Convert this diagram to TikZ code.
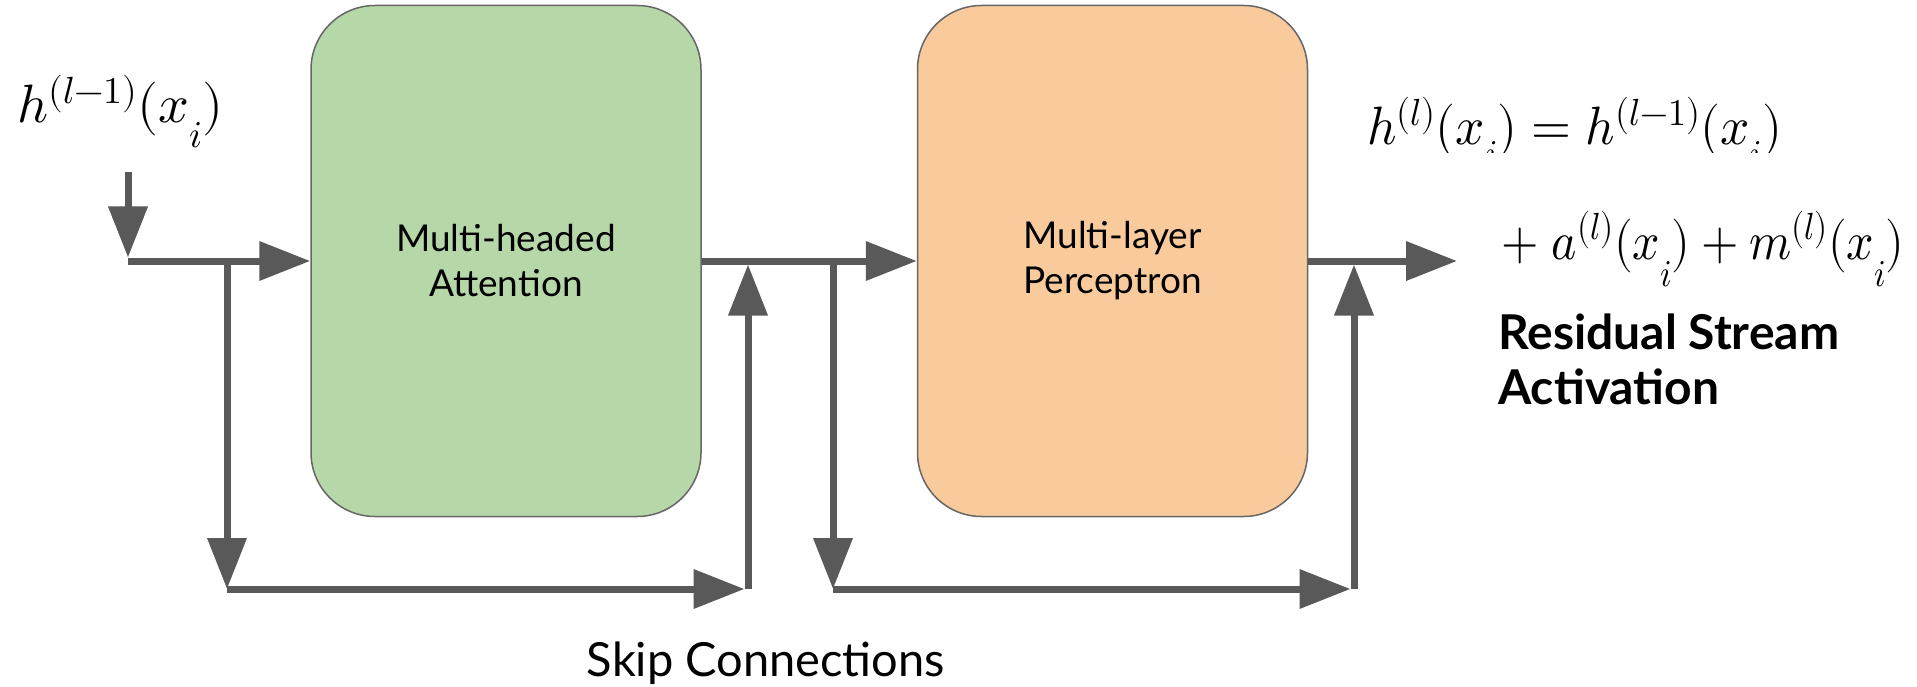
\documentclass[tikz,border=0pt]{standalone}
\usepackage{graphicx}
\usepackage{fontspec}
\usepackage{unicode-math}
\setmainfont{Lato}
\setmathfont{Latin Modern Math}
\usetikzlibrary{arrows.meta}

\definecolor{arrowgray}{HTML}{595959}
\definecolor{attnfill}{HTML}{B6D7A8}
\definecolor{mlpfill}{HTML}{F9CB9C}
\definecolor{boxline}{HTML}{666666}

% subscript i set well below the baseline
\newcommand\lowidx[1]{\raisebox{-#1}{$\scriptstyle i$}}

\tikzset{
  block/.style={draw=boxline, line width=1.5pt, rounded corners=64pt,
    minimum width=390pt, minimum height=511pt, inner sep=0pt,
    align=center, font=\fontsize{37}{45}\selectfont},
  flow/.style={draw=arrowgray, line width=7pt,
    -{Triangle[width=38pt,length=51pt]}},
  eqn/.style={anchor=base west, inner sep=0pt, font=\fontsize{54}{60}\selectfont},
}

\begin{document}
\begin{tikzpicture}[x=1pt, y=-1pt]
\useasboundingbox (0,0) rectangle (1917,687);
\fill[white] (0,0) rectangle (1917,687);

% the two sub-layers
\node[block, fill=attnfill] (attn) at (506,261) {Multi-headed\\Attention};
\node[block, fill=mlpfill]  (mlp)  at (1112.5,261) {Multi-layer\\Perceptron};

% junction points of the residual stream
\coordinate (in0) at (128,172);
\coordinate (j0)  at (128,261);
\coordinate (b1)  at (227,261);
\coordinate (b1d) at (227,589);
\coordinate (m1d) at (748,589);
\coordinate (m1)  at (748,261);
\coordinate (b2)  at (833,261);
\coordinate (b2d) at (833,589);
\coordinate (m2d) at (1354,589);
\coordinate (m2)  at (1354,261);
\coordinate (out) at (1457,261);

% main stream
\draw[flow, shorten >=3.5pt] (in0) -- (j0);
\draw[flow] (j0) -- (attn.west);
\draw[flow] (attn.east) -- (mlp.west);
\draw[flow] (mlp.east) -- (out);

% skip connection around attention
\draw[flow] (b1) -- (b1d);
\draw[flow, shorten >=3.5pt] (b1d) -- (m1d);
\draw[flow, shorten >=3.5pt] (m1d) -- (m1);

% skip connection around the MLP
\draw[flow] (b2) -- (b2d);
\draw[flow, shorten >=3.5pt] (b2d) -- (m2d);
\draw[flow, shorten >=3.5pt] (m2d) -- (m2);

% labels
\node[eqn] (hin) at (17,123) {$h^{(l-1)}(x\lowidx{25pt})$};

\begin{scope}
  \clip (1340,60) rectangle (1917,153);
  \node[eqn] (eqa) at (1367,145)
    {\scalebox{0.95}[1]{$h^{(l)}(x\lowidx{22pt}) = h^{(l-1)}(x\lowidx{22pt})$}};
\end{scope}
\node[eqn] (eqb) at (1501,259)
  {\scalebox{0.89}[1]{$+\;a^{(l)}(x\lowidx{27pt}) + m^{(l)}(x\lowidx{27pt})$}};

\node[anchor=north west, inner sep=0pt, align=left,
      font=\bfseries\fontsize{48}{55}\selectfont] (rsa) at (1498,314)
      {Residual Stream\\Activation};

\node[anchor=base, inner sep=0pt, font=\fontsize{47}{52}\selectfont] (skip)
      at (766,676) {Skip Connections};
\end{tikzpicture}
\end{document}
